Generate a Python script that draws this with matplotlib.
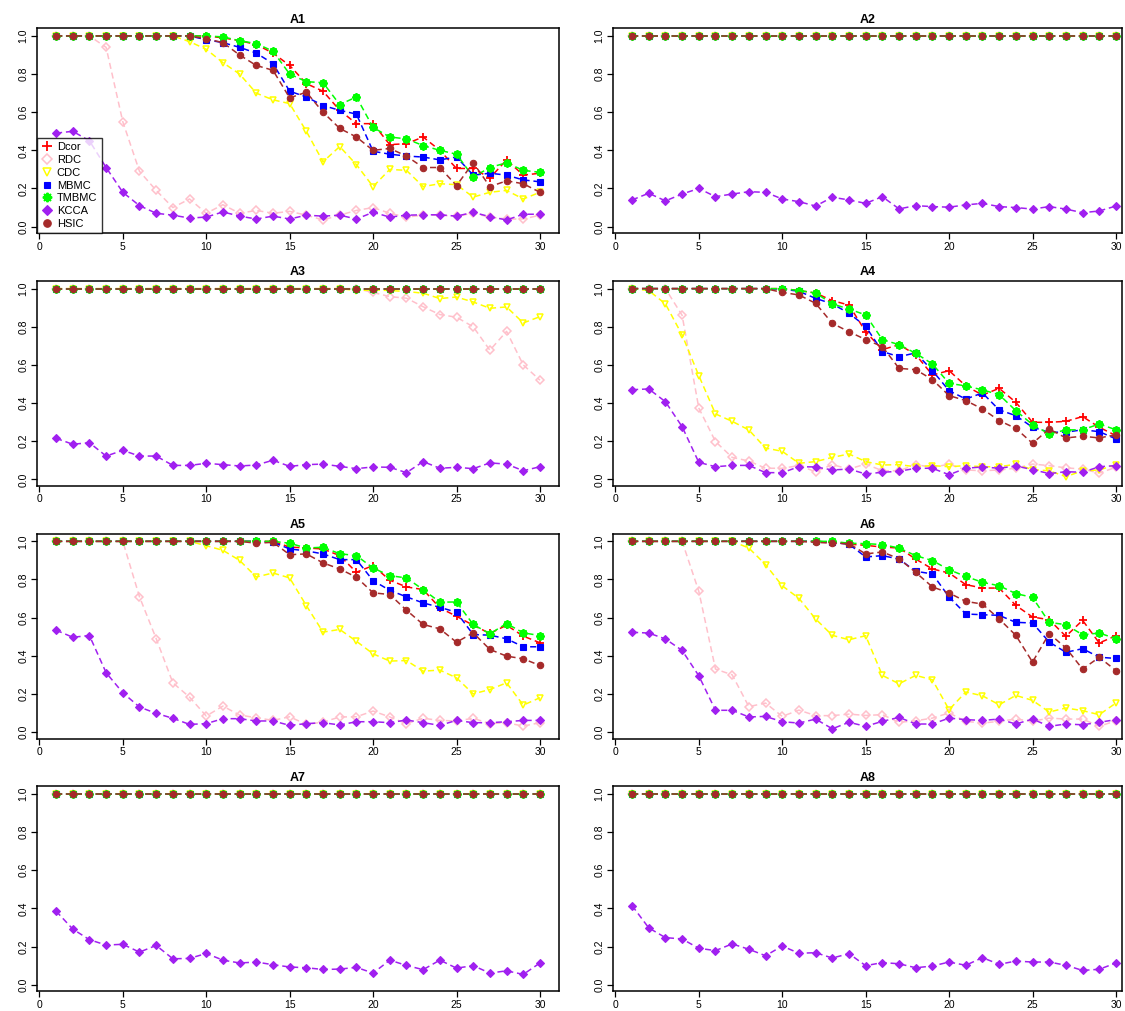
import numpy as np
import matplotlib
matplotlib.use('Agg')
from matplotlib import pyplot as plt
from matplotlib.lines import Line2D

plt.rcParams['font.family'] = ['Liberation Sans', 'DejaVu Sans']

x = np.arange(1, 31)
TOP = [1.0] * 30

# ---- A1 ----
a1_dcor = [1.0] * 10 + [0.99, 0.975, 0.955, 0.91, 0.845, 0.75, 0.71, 0.61, 0.54, 0.54,
                        0.43, 0.435, 0.47, 0.40, 0.305, 0.305, 0.255, 0.35, 0.27, 0.28]
a1_rdc = [1.0, 1.0, 1.0, 0.94, 0.55, 0.29, 0.19, 0.10, 0.145, 0.07, 0.115, 0.07, 0.085, 0.07, 0.08,
          0.06, 0.035, 0.06, 0.085, 0.10, 0.07, 0.05, 0.06, 0.06, 0.055, 0.07, 0.05, 0.04, 0.04, 0.06]
a1_cdc = [1.0] * 8 + [0.97, 0.93, 0.86, 0.80, 0.70, 0.665, 0.645, 0.50, 0.34, 0.42, 0.325,
                      0.21, 0.30, 0.295, 0.21, 0.225, 0.22, 0.155, 0.18, 0.19, 0.145, 0.18]
a1_mbmc = [1.0] * 9 + [0.98, 0.965, 0.94, 0.91, 0.855, 0.71, 0.68, 0.635, 0.61, 0.59, 0.395,
                       0.38, 0.37, 0.365, 0.35, 0.365, 0.27, 0.28, 0.27, 0.245, 0.235]
a1_tmbmc = [1.0] * 10 + [0.995, 0.975, 0.96, 0.92, 0.80, 0.76, 0.755, 0.64, 0.68, 0.52,
                         0.47, 0.46, 0.425, 0.40, 0.38, 0.26, 0.31, 0.335, 0.295, 0.285]
a1_kcca = [0.49, 0.50, 0.45, 0.31, 0.18, 0.11, 0.07, 0.06, 0.045, 0.05, 0.077, 0.055, 0.04, 0.055, 0.04,
           0.06, 0.055, 0.06, 0.04, 0.075, 0.05, 0.06, 0.062, 0.062, 0.055, 0.075, 0.052, 0.035, 0.065, 0.065]
a1_hsic = [1.0] * 9 + [0.985, 0.965, 0.90, 0.845, 0.82, 0.675, 0.705, 0.60, 0.515, 0.47, 0.40,
                       0.41, 0.37, 0.31, 0.31, 0.215, 0.335, 0.21, 0.24, 0.225, 0.18]

# ---- A2 ----
a2_kcca = [0.14, 0.175, 0.135, 0.171, 0.20, 0.157, 0.171, 0.183, 0.18, 0.145, 0.131, 0.108, 0.154, 0.14, 0.122,
           0.157, 0.093, 0.11, 0.105, 0.102, 0.114, 0.122, 0.105, 0.10, 0.092, 0.105, 0.092, 0.073, 0.082, 0.108]

# ---- A3 ----
a3_rdc = [1.0] * 19 + [0.98, 0.958, 0.95, 0.905, 0.864, 0.85, 0.80, 0.677, 0.776, 0.60, 0.52]
a3_cdc = [1.0] * 18 + [0.99, 0.993, 0.99, 0.985, 0.976, 0.948, 0.956, 0.93, 0.897, 0.904, 0.82, 0.853]
a3_kcca = [0.215, 0.184, 0.192, 0.122, 0.152, 0.122, 0.122, 0.073, 0.073, 0.084, 0.077, 0.07, 0.075, 0.10, 0.068,
           0.077, 0.08, 0.068, 0.056, 0.065, 0.063, 0.035, 0.093, 0.058, 0.063, 0.056, 0.086, 0.08, 0.045, 0.066]

# ---- A4 ----
a4_dcor = [1.0] * 10 + [0.99, 0.977, 0.937, 0.914, 0.774, 0.68, 0.706, 0.654, 0.547, 0.57,
                        0.49, 0.442, 0.477, 0.404, 0.299, 0.299, 0.304, 0.329, 0.273, 0.229]
a4_rdc = [1.0, 1.0, 1.0, 0.86, 0.374, 0.198, 0.115, 0.096, 0.058, 0.058, 0.072, 0.04, 0.077, 0.054, 0.08,
          0.045, 0.045, 0.077, 0.063, 0.079, 0.049, 0.045, 0.049, 0.058, 0.08, 0.072, 0.06, 0.054, 0.033, 0.063]
a4_cdc = [1.0, 0.99, 0.92, 0.757, 0.544, 0.343, 0.304, 0.259, 0.164, 0.147, 0.084, 0.093, 0.115, 0.133, 0.093,
          0.075, 0.077, 0.066, 0.072, 0.066, 0.072, 0.066, 0.066, 0.079, 0.051, 0.045, 0.014, 0.045, 0.049, 0.077]
a4_mbmc = [1.0] * 9 + [0.998, 0.986, 0.949, 0.92, 0.871, 0.802, 0.67, 0.643, 0.663, 0.57, 0.465,
                       0.421, 0.453, 0.364, 0.334, 0.273, 0.247, 0.247, 0.26, 0.25, 0.212]
a4_tmbmc = [1.0] * 10 + [0.99, 0.977, 0.92, 0.893, 0.862, 0.733, 0.706, 0.661, 0.605, 0.503,
                         0.49, 0.469, 0.444, 0.36, 0.287, 0.238, 0.259, 0.26, 0.29, 0.26]
a4_kcca = [0.47, 0.474, 0.407, 0.276, 0.089, 0.066, 0.073, 0.073, 0.035, 0.035, 0.066, 0.065, 0.049, 0.054, 0.028,
           0.037, 0.042, 0.058, 0.058, 0.024, 0.058, 0.065, 0.058, 0.07, 0.051, 0.03, 0.04, 0.037, 0.066, 0.072]
a4_hsic = [1.0] * 9 + [0.98, 0.967, 0.923, 0.818, 0.774, 0.733, 0.696, 0.582, 0.575, 0.523, 0.439,
                       0.413, 0.369, 0.308, 0.267, 0.189, 0.264, 0.217, 0.226, 0.217, 0.234]

# ---- A5 ----
a5_dcor = [1.0] * 14 + [0.97, 0.965, 0.96, 0.925, 0.838, 0.873, 0.796, 0.761, 0.747, 0.651,
                        0.607, 0.56, 0.517, 0.56, 0.503, 0.468]
a5_rdc = [1.0] * 5 + [0.709, 0.49, 0.258, 0.183, 0.084, 0.136, 0.089, 0.075, 0.061, 0.08, 0.04, 0.052,
                      0.079, 0.08, 0.11, 0.079, 0.044, 0.072, 0.061, 0.058, 0.072, 0.044, 0.049, 0.031, 0.049]
a5_cdc = [1.0] * 9 + [0.977, 0.953, 0.90, 0.813, 0.834, 0.808, 0.663, 0.524, 0.538, 0.476, 0.41,
                      0.372, 0.375, 0.319, 0.325, 0.284, 0.20, 0.223, 0.258, 0.141, 0.18]
a5_mbmc = [1.0] * 13 + [0.995, 0.96, 0.95, 0.934, 0.904, 0.904, 0.794, 0.743, 0.709, 0.677,
                        0.654, 0.628, 0.511, 0.508, 0.489, 0.447, 0.447]
a5_tmbmc = [1.0] * 14 + [0.99, 0.965, 0.969, 0.935, 0.925, 0.86, 0.82, 0.808, 0.747, 0.681,
                         0.682, 0.564, 0.515, 0.569, 0.52, 0.506]
a5_kcca = [0.534, 0.497, 0.506, 0.311, 0.206, 0.131, 0.098, 0.072, 0.04, 0.044, 0.07, 0.07, 0.058, 0.058, 0.035,
           0.044, 0.049, 0.037, 0.054, 0.054, 0.049, 0.063, 0.049, 0.035, 0.061, 0.049, 0.049, 0.054, 0.061, 0.061]
a5_hsic = [1.0] * 12 + [0.99, 0.995, 0.93, 0.934, 0.887, 0.855, 0.812, 0.73, 0.721, 0.639,
                        0.564, 0.541, 0.471, 0.52, 0.433, 0.398, 0.384, 0.349]

# ---- A6 ----
a6_dcor = [1.0] * 12 + [0.995, 0.985, 0.979, 0.97, 0.965, 0.907, 0.855, 0.834, 0.773, 0.755,
                        0.755, 0.664, 0.603, 0.589, 0.502, 0.586, 0.467, 0.505]
a6_rdc = [1.0] * 4 + [0.738, 0.33, 0.30, 0.133, 0.152, 0.082, 0.115, 0.086, 0.086, 0.094, 0.087, 0.091,
                      0.051, 0.059, 0.073, 0.10, 0.056, 0.047, 0.056, 0.068, 0.056, 0.073, 0.068, 0.068, 0.03, 0.059]
a6_cdc = [1.0] * 7 + [0.965, 0.878, 0.767, 0.701, 0.593, 0.507, 0.484, 0.505, 0.297, 0.253, 0.297,
                      0.274, 0.117, 0.21, 0.19, 0.143, 0.192, 0.166, 0.105, 0.126, 0.112, 0.091, 0.152]
a6_mbmc = [1.0] * 12 + [0.995, 0.985, 0.918, 0.925, 0.907, 0.843, 0.829, 0.708, 0.619, 0.615,
                        0.612, 0.575, 0.572, 0.472, 0.418, 0.437, 0.392, 0.386]
a6_tmbmc = [1.0] * 13 + [0.99, 0.988, 0.983, 0.965, 0.925, 0.899, 0.851, 0.816, 0.785, 0.767,
                         0.726, 0.706, 0.575, 0.563, 0.51, 0.519, 0.49]
a6_kcca = [0.523, 0.519, 0.488, 0.428, 0.295, 0.114, 0.114, 0.079, 0.082, 0.054, 0.047, 0.068, 0.017, 0.051, 0.03,
           0.056, 0.077, 0.042, 0.042, 0.073, 0.065, 0.061, 0.068, 0.042, 0.068, 0.03, 0.042, 0.038, 0.051, 0.065]
a6_hsic = [1.0] * 11 + [0.995, 0.99, 0.988, 0.934, 0.944, 0.909, 0.837, 0.761, 0.729, 0.685,
                        0.671, 0.593, 0.507, 0.367, 0.516, 0.441, 0.33, 0.392, 0.322]

# ---- A7 / A8 ----
a7_kcca = [0.386, 0.292, 0.236, 0.208, 0.212, 0.171, 0.206, 0.136, 0.138, 0.164, 0.129, 0.114, 0.119, 0.105, 0.093,
           0.089, 0.08, 0.082, 0.091, 0.061, 0.129, 0.101, 0.079, 0.129, 0.087, 0.10, 0.061, 0.073, 0.054, 0.114]
a8_kcca = [0.415, 0.298, 0.247, 0.24, 0.191, 0.179, 0.214, 0.186, 0.152, 0.203, 0.165, 0.168, 0.14, 0.163, 0.10,
           0.116, 0.11, 0.089, 0.098, 0.119, 0.102, 0.142, 0.107, 0.124, 0.119, 0.119, 0.102, 0.075, 0.081, 0.114]

methods = ['Dcor', 'RDC', 'CDC', 'MBMC', 'TMBMC', 'KCCA', 'HSIC']
panels = {
    'A1': [a1_dcor, a1_rdc, a1_cdc, a1_mbmc, a1_tmbmc, a1_kcca, a1_hsic],
    'A2': [TOP, TOP, TOP, TOP, TOP, a2_kcca, TOP],
    'A3': [TOP, a3_rdc, a3_cdc, TOP, TOP, a3_kcca, TOP],
    'A4': [a4_dcor, a4_rdc, a4_cdc, a4_mbmc, a4_tmbmc, a4_kcca, a4_hsic],
    'A5': [a5_dcor, a5_rdc, a5_cdc, a5_mbmc, a5_tmbmc, a5_kcca, a5_hsic],
    'A6': [a6_dcor, a6_rdc, a6_cdc, a6_mbmc, a6_tmbmc, a6_kcca, a6_hsic],
    'A7': [TOP, TOP, TOP, TOP, TOP, a7_kcca, TOP],
    'A8': [TOP, TOP, TOP, TOP, TOP, a8_kcca, TOP],
}

# R-like point styles
styles = {
    'Dcor':  dict(color='red', marker='+', ms=6, mew=1.3, mfc='red'),
    'RDC':   dict(color='pink', marker='D', ms=4, mew=1.1, mfc='none'),
    'CDC':   dict(color='yellow', marker='v', ms=5, mew=1.1, mfc='none'),
    'MBMC':  dict(color='blue', marker='s', ms=4, mew=0.8, mfc='blue'),
    'TMBMC': dict(color='#00FF00', marker=(8, 2, 0), ms=6, mew=1.4, mfc='#00FF00'),
    'KCCA':  dict(color='#A020F0', marker='D', ms=4.2, mew=0.8, mfc='#A020F0'),
    'HSIC':  dict(color='#A52A2A', marker='o', ms=4.6, mew=0.8, mfc='#A52A2A'),
}

W, H = 1125, 1011
fig = plt.figure(figsize=(W / 100, H / 100), dpi=100)

px_per_unit = 522.6 / 31.32
box_h = 205
cols = [(36.7, 522.6, 31.16), (612.7, 509.5, -0.16 + 509.5 / px_per_unit)]
tops = [28.3 + k * 252.7 for k in range(4)]

for i, (name, series) in enumerate(panels.items()):
    row, col = divmod(i, 2)
    l, bw, xr = cols[col]
    t = tops[row]
    ax = fig.add_axes([l / W, 1 - (t + box_h) / H, bw / W, box_h / H])
    for m, y in zip(methods, series):
        st = styles[m]
        ax.plot(x, y, linestyle=(0, (4, 2.5)), lw=1.1, color=st['color'],
                marker=st['marker'], ms=st['ms'], mew=st['mew'],
                mfc=st['mfc'], mec=st['color'])
    ax.set_xlim(-0.16, xr)
    ax.set_ylim(-0.035, 1.04)
    ax.set_xticks([0, 5, 10, 15, 20, 25, 30])
    ax.set_yticks([0.0, 0.2, 0.4, 0.6, 0.8, 1.0])
    ax.set_yticklabels(['0.0', '0.2', '0.4', '0.6', '0.8', '1.0'],
                       rotation=90, va='center')
    ax.tick_params(direction='out', length=4, width=0.9, labelsize=7.5, pad=2)
    for sp in ax.spines.values():
        sp.set_linewidth(1.1)
    ax.set_title(name, fontsize=9, fontweight='bold', pad=4)

    if name == 'A1':
        handles = [Line2D([], [], linestyle='none', marker=styles[m]['marker'],
                          ms=styles[m]['ms'] + 0.8, mew=styles[m]['mew'],
                          mfc=styles[m]['mfc'], mec=styles[m]['color'])
                   for m in methods]
        leg = ax.legend(handles, methods, loc='lower left', borderaxespad=0,
                        fontsize=8, frameon=True, fancybox=False,
                        edgecolor='black', handlelength=1.0, handletextpad=0.4,
                        labelspacing=0.25, borderpad=0.4)
        leg.get_frame().set_linewidth(1.0)

fig.savefig('out.png', dpi=100)
